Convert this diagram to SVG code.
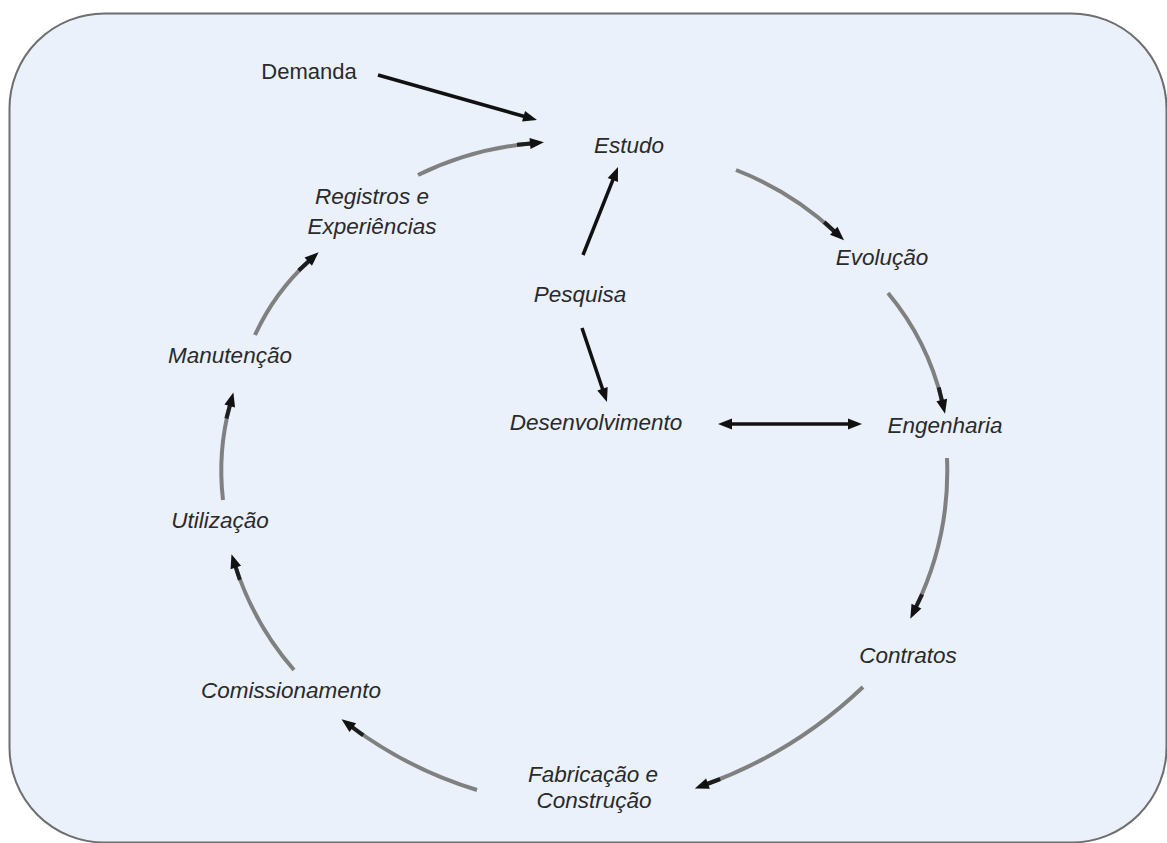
<svg xmlns="http://www.w3.org/2000/svg" width="1167" height="843" viewBox="0 0 1167 843">
  <style>
    .frame { fill: #eaf1fa; stroke: #6e6e6e; stroke-width: 2; }
    .label { font-family: "Liberation Sans", Arial, sans-serif; font-size: 22.5px; font-style: italic; fill: #2a2a2a; text-anchor: middle; }
    .plain { font-style: normal; font-size: 22px; }
    .cycle { fill: none; stroke: #808080; stroke-width: 4; marker-end: url(#headTail); }
    .direct { fill: none; stroke: #111; stroke-width: 3.5; marker-end: url(#head); }
    .both { marker-start: url(#head); }
  </style>
  <defs>
    <marker id="head" markerUnits="userSpaceOnUse" viewBox="-16 -8 32 16" refX="0" refY="0" markerWidth="32" markerHeight="16" orient="auto-start-reverse">
      <path d="M-1,-5.5 L13,0 L-1,5.5 Z" fill="#111"/>
    </marker>
    <marker id="headTail" markerUnits="userSpaceOnUse" viewBox="-16 -8 32 16" refX="0" refY="0" markerWidth="32" markerHeight="16" orient="auto">
      <rect x="-14" y="-2" width="14" height="4" fill="#1e1e1e"/>
      <path d="M-1,-5.5 L13,0 L-1,5.5 Z" fill="#111"/>
    </marker>
  </defs>

  <rect class="frame" x="9.5" y="13.5" width="1157" height="829" rx="95" ry="95"/>

  <g id="connectors">
    <!-- cycle: study through records and back -->
    <path class="cycle" d="M736,170 A309,309 0 0 1 834.5,231.5"/>
    <path class="cycle" d="M888,293 A265,265 0 0 1 942,401"/>
    <path class="cycle" d="M947,458 A312,312 0 0 1 916,607"/>
    <path class="cycle" d="M863,687 A450,450 0 0 1 707,784"/>
    <path class="cycle" d="M477,790 A411,411 0 0 1 352,727"/>
    <path class="cycle" d="M294,670 A298,298 0 0 1 235.5,566.5"/>
    <path class="cycle" d="M223,500 A252,252 0 0 1 230,405"/>
    <path class="cycle" d="M255,335 A230,230 0 0 1 309,261"/>
    <path class="cycle" d="M418,175 A326,326 0 0 1 531,143.5"/>
    <!-- direct links -->
    <path class="direct" d="M378,75 L524.5,116.5"/>
    <path class="direct" d="M583,255 L613.2,179.1"/>
    <path class="direct" d="M582,328 L602.8,389.7"/>
    <path class="direct both" d="M731,424 L849,424"/>
  </g>

  <g id="demanda"><text class="label plain" x="309" y="79">Demanda</text></g>
  <g id="estudo"><text class="label" x="629" y="153">Estudo</text></g>
  <g id="registros"><text class="label" x="372" y="204">Registros e</text><text class="label" x="372" y="234">Experiências</text></g>
  <g id="pesquisa"><text class="label" x="580" y="302">Pesquisa</text></g>
  <g id="desenvolvimento"><text class="label" x="596" y="430">Desenvolvimento</text></g>
  <g id="evolucao"><text class="label" x="882" y="265">Evolução</text></g>
  <g id="engenharia"><text class="label" x="945" y="433">Engenharia</text></g>
  <g id="contratos"><text class="label" x="908" y="663">Contratos</text></g>
  <g id="fabricacao"><text class="label" x="593" y="782">Fabricação e</text><text class="label" x="594" y="808">Construção</text></g>
  <g id="comissionamento"><text class="label" x="291" y="698">Comissionamento</text></g>
  <g id="utilizacao"><text class="label" x="220" y="528">Utilização</text></g>
  <g id="manutencao"><text class="label" x="230" y="363">Manutenção</text></g>
</svg>
